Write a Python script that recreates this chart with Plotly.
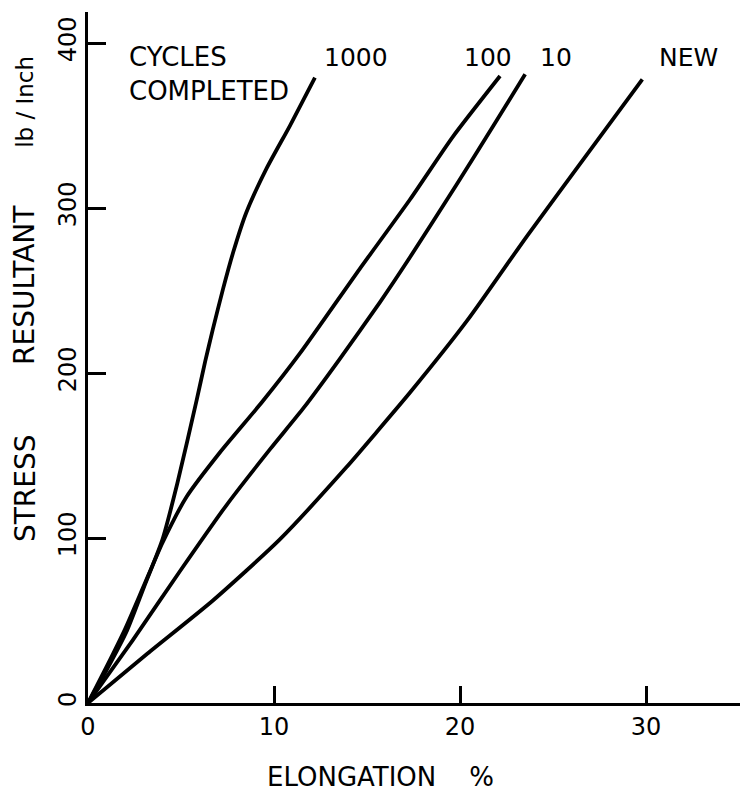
import plotly.graph_objects as go

# Elongation (%) and resultant stress (lb/inch)
new_x = [0, 3.2, 6.7, 10.3, 13.9, 15.5, 17.3, 20.4, 23.6, 26.6, 29.8]
new_y = [0, 30, 62, 99, 143, 164, 188, 232, 283, 329, 378]

c10_x = [0, 1.2, 2.4, 4.95, 7.45, 9.8, 11.6, 13.5, 15.7, 17.3, 19.8, 21.8, 23.5]
c10_y = [0, 19, 38, 80, 120, 154, 179, 208, 243, 270, 314, 350, 381]

c100_x = [0, 1, 2, 3, 4, 5.3, 7.1, 9.4, 11.4, 14.6, 17.3, 19.6, 22.15]
c100_y = [0, 22, 45, 71, 97, 125, 152, 183, 212, 263, 305, 343, 380]

c1000_x = [0, 1, 2.1, 3, 4.0, 4.8, 5.85, 6.3, 6.7, 7.26, 7.8, 8.5, 9.6, 10.86, 12.2]
c1000_y = [0, 20, 44, 70, 99, 133, 184, 207, 226, 251, 273, 297, 324, 350, 379]

series = [("NEW", new_x, new_y), ("10", c10_x, c10_y),
          ("100", c100_x, c100_y), ("1000", c1000_x, c1000_y)]

x_ticks = [0, 10, 20, 30]
y_ticks = [0, 100, 200, 300, 400]

labels = [("1000", 12.6), ("100", 20.1), ("10", 24.2), ("NEW", 30.6)]
label_y = 391

FONT = "DejaVu Sans"

fig = go.Figure()
for name, xs, ys in series:
    fig.add_trace(go.Scatter(x=xs, y=ys, mode="lines", name=name,
                             line=dict(color="black", width=3.8, shape="spline", smoothing=0.6),
                             showlegend=False, hoverinfo="skip"))

ann = []
for txt, xv in labels:
    ann.append(dict(x=xv, y=label_y, xref="x", yref="y", text=txt, showarrow=False,
                    xanchor="left", yanchor="middle", font=dict(family=FONT, size=25, color="black")))
ann.append(dict(x=2.1, y=381, xref="x", yref="y", text="CYCLES<br>COMPLETED", showarrow=False,
                xanchor="left", yanchor="middle", align="left",
                font=dict(family=FONT, size=26, color="black")))

# y axis title pieces (rotated)
for txt, py, sz in [("STRESS", 0.311, 28), ("RESULTANT", 0.605, 28), ("lb / Inch", 0.870, 23)]:
    ann.append(dict(x=-0.0966, y=py, xref="paper", yref="paper", text=txt, showarrow=False,
                    textangle=-90, xanchor="center", yanchor="middle",
                    font=dict(family=FONT, size=sz, color="black")))
ann.append(dict(x=0.449, y=-0.107, xref="paper", yref="paper", text="ELONGATION&nbsp;&nbsp;&nbsp;&nbsp;%",
                showarrow=False, xanchor="center", yanchor="middle",
                font=dict(family=FONT, size=26, color="black")))

fig.update_layout(
    width=740, height=791,
    margin=dict(l=88, r=0, t=12, b=88),
    paper_bgcolor="white", plot_bgcolor="white",
    annotations=ann,
    xaxis=dict(range=[0, 35.05], tickvals=x_ticks, ticktext=[str(v) for v in x_ticks],
               showgrid=False, zeroline=False, showline=True, linecolor="black", linewidth=2.5,
               ticks="inside", ticklen=17, tickwidth=2.5, tickcolor="black",
               tickfont=dict(family=FONT, size=24, color="black")),
    yaxis=dict(range=[0, 418.8], tickvals=y_ticks, ticktext=[str(v) for v in y_ticks],
               showgrid=False, zeroline=False, showline=True, linecolor="black", linewidth=2.5,
               ticks="inside", ticklen=18, tickwidth=2.5, tickcolor="black", tickangle=-90,
               tickfont=dict(family=FONT, size=24, color="black")),
)

fig.write_html("out.html")
